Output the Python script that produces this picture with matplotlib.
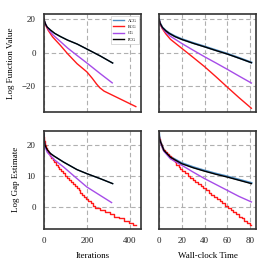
import numpy as np
import matplotlib
matplotlib.use("Agg")
import matplotlib.pyplot as plt

plt.rcParams['font.family'] = ['Liberation Serif', 'DejaVu Serif']
plt.rcParams['font.size'] = 6.5

########################################################
# Log function value vs iterations
pcg_f_it = [0, 3, 8, 15, 31, 50, 77, 110, 154, 200, 262, 320]
pcg_f_val = [20, 18.5, 16.8, 15.2, 13.4, 11.5, 9.6, 7.5, 5.2, 2.2, -1.9, -6.1]
acg_f_it = pcg_f_it
acg_f_val = pcg_f_val
cg_f_it = [0, 3, 8, 20, 40, 77, 110, 154, 200, 262, 318]
cg_f_val = [20, 18.2, 16.6, 14.0, 10.8, 6.6, 2.8, -1.6, -6.1, -12.4, -17.9]
bcg_f_it = [0, 3, 8, 20, 40, 77, 110, 154, 200, 225, 245, 260, 280, 338, 428]
bcg_f_val = [20, 18.0, 16.2, 13.2, 9.4, 4.3, -0.6, -6.5, -11.4, -15.2, -18.6, -20.8, -22.8, -26.4, -32.0]

# Log function value vs wall-clock time
pcg_f_t = [0, 1, 3, 6, 9, 14, 20, 30, 40, 50, 60, 70, 81]
pcg_f_tval = [20, 17.5, 15.0, 13.0, 11.5, 9.6, 7.9, 5.6, 3.5, 1.3, -0.8, -3.2, -5.9]
acg_f_t = [0, 1, 3, 6, 9, 14, 20, 30, 40, 50, 60, 70, 81]
acg_f_tval = [20, 17.5, 15.0, 13.1, 11.6, 9.8, 8.1, 5.8, 3.7, 1.5, -0.6, -3.0, -5.8]
cg_f_t = [0, 1, 3, 6, 10, 20, 30, 40, 50, 60, 70, 81]
cg_f_tval = [20, 17.2, 14.6, 12.2, 9.8, 5.5, 1.5, -2.4, -6.1, -9.9, -13.8, -18.0]
bcg_f_t = [0, 1, 3, 6, 10, 20, 30, 40, 50, 60, 70, 81]
bcg_f_tval = [20, 17.0, 14.2, 11.2, 8.0, 2.6, -2.8, -8.3, -14.3, -20.5, -26.6, -33.0]

# Log gap estimate vs iterations
pcg_g_it = [0, 2, 5, 15, 30, 46, 92, 154, 200, 262, 320]
pcg_g_val = [23.5, 21.0, 19.8, 18.4, 17.2, 16.4, 14.4, 12.0, 10.7, 9.1, 7.5]
acg_g_it = pcg_g_it
acg_g_val = pcg_g_val
cg_g_it = [0, 2, 5, 15, 46, 92, 154, 200, 262, 315]
cg_g_val = [23.5, 20.8, 19.4, 17.6, 15.3, 12.8, 9.1, 6.4, 3.7, 1.4]
# BCG gap estimate is a staircase: iteration where each level starts
bcg_g_it = [0, 1, 2, 4, 6, 9, 13, 17, 22, 28, 34, 40, 47, 55, 63, 71, 80, 89,
            98, 107, 116, 125, 134, 143, 152, 161, 170, 179, 188, 197, 207, 218,
            229, 240, 262, 284, 306, 328, 350, 372, 394, 416, 430]
bcg_g_lvl = [22.6, 21.9, 21.2, 20.5, 19.8, 19.1, 18.4, 17.7, 17.1, 16.4, 15.7,
             15.0, 14.3, 13.6, 12.9, 12.2, 11.5, 10.8, 10.1, 9.4, 8.7, 8.0, 7.3,
             6.6, 6.0, 5.3, 4.6, 3.9, 3.2, 2.5, 1.8, 1.1, 0.4, -0.3, -1.0, -1.7,
             -2.4, -3.1, -3.7, -4.4, -5.1, -5.8, -5.8]

# Log gap estimate vs wall-clock time
pcg_g_t = [0, 0.5, 1.4, 4.3, 10, 20, 30, 40, 50, 60, 70, 81]
pcg_g_tval = [24, 22.0, 20.9, 18.2, 16.0, 13.9, 12.6, 11.5, 10.5, 9.6, 8.6, 7.5]
acg_g_t = [0, 0.5, 1.4, 4.3, 10, 20, 30, 40, 50, 60, 70, 81]
acg_g_tval = [24, 22.0, 20.9, 18.2, 16.1, 14.1, 12.8, 11.7, 10.7, 9.8, 8.8, 7.7]
cg_g_t = [0, 0.5, 1.4, 4.3, 10, 20, 30, 40, 50, 60, 70, 81]
cg_g_tval = [24, 21.8, 20.6, 17.9, 15.5, 13.4, 11.2, 9.1, 7.2, 5.3, 3.4, 1.6]
bcg_g_t = [0, 0.3, 0.7, 1.2, 1.8, 2.6, 3.6, 5.0, 6.7, 8.4, 10.1, 11.9, 13.6,
           15.3, 17.1, 18.8, 20.5, 22.8, 25.1, 27.3, 29.6, 31.9, 34.2, 36.6,
           38.9, 41.1, 43.6, 46.0, 48.4, 50.7, 53.1, 55.5, 57.9, 60.3, 62.7,
           65.1, 67.6, 70.0, 72.5, 74.9, 77.3, 79.8, 81]
bcg_g_tlvl = bcg_g_lvl

labels = ['ACG', 'BCG', 'CG', 'PCG']
colors = ['#4f8fc6', '#ff1a1a', '#a64ce8', 'black']

########################################################
fig, axes = plt.subplots(2, 2, figsize=(2.7, 2.7), dpi=100, sharex='col', sharey='row')
fig.subplots_adjust(left=0.163, right=0.948, bottom=0.152, top=0.948,
                    wspace=0.186, hspace=0.183)

ax_fi, ax_ft = axes[0]
ax_gi, ax_gt = axes[1]

lw = 1.0
ax_fi.plot(acg_f_it, acg_f_val, color=colors[0], lw=lw, label=labels[0])
ax_fi.plot(bcg_f_it, bcg_f_val, color=colors[1], lw=lw, label=labels[1])
ax_fi.plot(cg_f_it, cg_f_val, color=colors[2], lw=lw, label=labels[2])
ax_fi.plot(pcg_f_it, pcg_f_val, color=colors[3], lw=lw, label=labels[3])

ax_ft.plot(acg_f_t, acg_f_tval, color=colors[0], lw=1.5)
ax_ft.plot(bcg_f_t, bcg_f_tval, color=colors[1], lw=lw)
ax_ft.plot(cg_f_t, cg_f_tval, color=colors[2], lw=lw)
ax_ft.plot(pcg_f_t, pcg_f_tval, color=colors[3], lw=lw)

ax_gi.plot(acg_g_it, acg_g_val, color=colors[0], lw=lw)
ax_gi.plot(bcg_g_it, bcg_g_lvl, color=colors[1], lw=lw, drawstyle='steps-post')
ax_gi.plot(cg_g_it, cg_g_val, color=colors[2], lw=lw)
ax_gi.plot(pcg_g_it, pcg_g_val, color=colors[3], lw=lw)

ax_gt.plot(acg_g_t, acg_g_tval, color=colors[0], lw=1.5)
ax_gt.plot(bcg_g_t, bcg_g_tlvl, color=colors[1], lw=lw, drawstyle='steps-post')
ax_gt.plot(cg_g_t, cg_g_tval, color=colors[2], lw=lw)
ax_gt.plot(pcg_g_t, pcg_g_tval, color=colors[3], lw=lw)

ax_fi.set_xlim(0, 452)
ax_ft.set_xlim(0, 85)
ax_fi.set_ylim(-35.5, 23)
ax_gi.set_ylim(-7.1, 24.6)
ax_fi.set_xticks([0, 200, 400])
ax_ft.set_xticks([0, 20, 40, 60, 80])
ax_fi.set_yticks([-20, 0, 20])
ax_gi.set_yticks([0, 10, 20])

for ax in axes.flat:
    ax.grid(True, linestyle=(0, (4, 2.5)), color='#b0b0b0', linewidth=0.8)
    ax.set_axisbelow(True)
    for sp in ax.spines.values():
        sp.set_linewidth(1.2)
        sp.set_color('#333333')
    ax.tick_params(length=0, pad=6, labelsize=6.5, colors='#222222')

ax_fi.set_ylabel('Log Function Value', fontsize=6.5, labelpad=5)
ax_gi.set_ylabel('Log Gap Estimate', fontsize=6.5, labelpad=5)
ax_gi.set_xlabel('Iterations', fontsize=6.5, labelpad=5)
ax_gt.set_xlabel('Wall-clock Time', fontsize=6.5, labelpad=5)

leg = ax_fi.legend(loc='upper right', fontsize=3.2, handlelength=2.4,
                   borderpad=0.5, labelspacing=0.5, fancybox=False, framealpha=1)
leg.get_frame().set_edgecolor('#cccccc')
leg.get_frame().set_linewidth(0.5)

fig.savefig('out.png', dpi=100)
